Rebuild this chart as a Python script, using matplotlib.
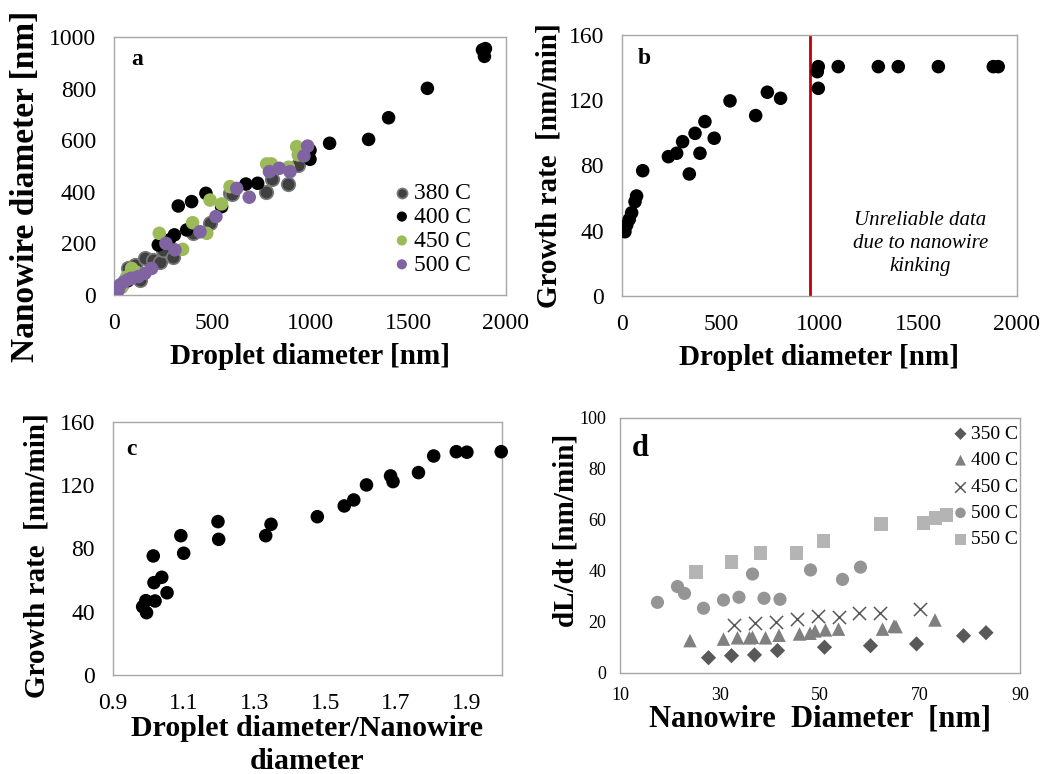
import matplotlib
matplotlib.use('Agg')
import matplotlib.pyplot as plt

plt.rcParams['font.family'] = ['Liberation Serif', 'DejaVu Serif']

# panel a: nanowire vs droplet diameter
a380_x = [60, 73, 107, 133, 158, 201, 235, 252, 301, 405, 490, 592, 604, 776, 806, 889, 940]
a380_y = [60, 103, 116, 58, 142, 136, 129, 174, 149, 239, 278, 394, 391, 399, 448, 430, 504]
a400_x = [20, 45, 70, 95, 226, 282, 308, 328, 371, 396, 469, 549, 673, 733, 1000, 1000, 1100,
          1299, 1401, 1599, 1880, 1895, 1890]
a400_y = [25, 40, 55, 80, 194, 213, 233, 345, 252, 362, 394, 342, 430, 433, 561, 526, 588,
          603, 687, 801, 950, 955, 925]
a450_x = [40, 65, 90, 110, 231, 350, 401, 473, 490, 549, 592, 779, 803, 890, 932, 940]
a450_y = [30, 70, 103, 90, 239, 177, 280, 239, 368, 353, 420, 508, 508, 495, 575, 543]
a500_x = [15, 22, 31, 50, 73, 90, 124, 158, 192, 265, 311, 439, 520, 626, 690, 793, 843, 898,
          969, 988]
a500_y = [20, 19, 39, 50, 60, 65, 71, 84, 103, 200, 175, 245, 304, 413, 379, 478, 491, 478,
          539, 577]

# panel b: growth rate vs droplet diameter
b_x = [15, 24, 37, 49, 66, 74, 105, 235, 277, 307, 341, 370, 395, 420, 467, 547, 677, 736, 803,
       989, 994, 994, 1095, 1298, 1399, 1602, 1880, 1905]
b_y = [39.4, 43.5, 47, 51, 57.8, 61.3, 76.8, 85.4, 87.5, 94.6, 74.8, 99.7, 87.5, 106.9, 96.7,
       119.6, 110.6, 124.9, 121.2, 137.5, 140.6, 127.3, 140.6, 140.6, 140.6, 140.6, 140.6, 140.6]
kink_x = 950

# panel c: growth rate vs diameter ratio
c_x = [0.995, 0.984, 0.993, 1.019, 1.053, 1.016, 1.038, 1.014, 1.100, 1.092, 1.199, 1.197,
       1.332, 1.347, 1.478, 1.554, 1.581, 1.617, 1.685, 1.692, 1.764, 1.807, 1.871, 1.901, 1.998]
c_y = [39.4, 43.2, 47.0, 46.8, 52.0, 58.4, 61.8, 75.3, 77.0, 88.1, 85.8, 97.0, 88.1, 95.3,
       100.1, 106.9, 110.7, 120.2, 125.9, 122.3, 128.0, 138.5, 141.2, 140.9, 141.2]
c_xticks = [0.9, 1.1, 1.3, 1.5, 1.7, 1.9]

# panel d: dL/dt vs nanowire diameter
d350_x = [27.7, 32.3, 36.9, 41.5, 50.9, 60.1, 69.3, 78.7, 83.2]
d350_y = [6.0, 6.8, 7.1, 8.8, 10.1, 10.7, 11.4, 14.6, 15.8]
d400_x = [24.0, 30.7, 33.5, 35.9, 36.5, 39.1, 41.8, 45.9, 48.0, 49.0, 51.1, 53.7, 62.5, 64.8,
          65.2, 73.0]
d400_y = [12.7, 13.3, 13.8, 13.8, 14.0, 13.8, 14.8, 15.3, 15.6, 16.5, 16.9, 17.2, 17.2, 18.4,
          18.2, 20.8]
d450_x = [32.9, 37.1, 41.3, 45.3, 49.5, 53.7, 57.8, 62.0, 70.0]
d450_y = [18.8, 19.5, 19.9, 21.2, 22.4, 22.0, 23.6, 23.6, 25.1]
d500_x = [17.5, 21.5, 22.9, 26.7, 30.7, 33.8, 36.5, 38.8, 42.0, 48.1, 54.5, 58.1]
d500_y = [27.7, 33.9, 31.2, 25.4, 28.6, 29.7, 38.8, 29.3, 28.9, 40.4, 36.7, 41.5]
d550_x = [25.2, 32.3, 38.1, 45.3, 50.7, 62.2, 70.7, 73.1, 75.3]
d550_y = [39.7, 43.4, 46.9, 46.9, 51.8, 58.3, 58.7, 60.7, 62.0]

fig = plt.figure(figsize=(10.42, 7.74), dpi=100)
ax_a = fig.add_axes([0.1094, 0.6189, 0.3762, 0.3333])
ax_b = fig.add_axes([0.5969, 0.6176, 0.3791, 0.3372])
ax_c = fig.add_axes([0.1084, 0.1279, 0.3733, 0.3269])
ax_d = fig.add_axes([0.5950, 0.1305, 0.3839, 0.3295])

for ax in (ax_a, ax_b, ax_c, ax_d):
    for sp in ax.spines.values():
        sp.set_color('#a6a6a6')
        sp.set_linewidth(1.0)
    ax.tick_params(length=0, labelsize=17, pad=13)

label_font = dict(fontsize=21, fontweight='bold')

# a
ms = 95
ax_a.scatter(a380_x, a380_y, s=ms, color='#404040', edgecolor='#7a7a7a', linewidth=1.2, label='380 C', zorder=3)
ax_a.scatter(a400_x, a400_y, s=ms, color='black', edgecolor='none', label='400 C', zorder=3)
ax_a.scatter(a450_x, a450_y, s=ms, color='#9BBB59', edgecolor='none', label='450 C', zorder=3)
ax_a.scatter(a500_x, a500_y, s=ms, color='#8064A2', edgecolor='none', label='500 C', zorder=3)
ax_a.set_xlim(0, 2000)
ax_a.set_ylim(0, 1000)
ax_a.set_xticks([0, 500, 1000, 1500, 2000])
ax_a.set_yticks([0, 200, 400, 600, 800, 1000])
ax_a.set_xlabel('Droplet diameter [nm]', **label_font)
ax_a.set_ylabel('Nanowire diameter [nm]', fontsize=24, fontweight='bold')
ax_a.xaxis.set_label_coords(0.5, -0.185)
ax_a.yaxis.set_label_coords(-0.185, 0.42)
ax_a.text(0.045, 0.89, 'a', transform=ax_a.transAxes, fontsize=17, fontweight='bold')
ax_a.legend(loc='center right', bbox_to_anchor=(0.94, 0.256), frameon=False, fontsize=17,
            handlelength=0.8, handletextpad=0.1, labelspacing=0.1, borderpad=0, markerscale=0.75)

# b
ax_b.scatter(b_x, b_y, s=ms, color='black', edgecolor='none', zorder=3)
ax_b.axvline(kink_x, color='#C00000', linewidth=2.0, zorder=2)
ax_b.set_xlim(0, 2000)
ax_b.set_ylim(0, 160)
ax_b.set_xticks([0, 500, 1000, 1500, 2000])
ax_b.set_yticks([0, 40, 80, 120, 160])
ax_b.set_xlabel('Droplet diameter [nm]', **label_font)
ax_b.set_ylabel('Growth rate  [nm/min]', **label_font)
ax_b.xaxis.set_label_coords(0.5, -0.185)
ax_b.yaxis.set_label_coords(-0.15, 0.5)
ax_b.text(0.04, 0.89, 'b', transform=ax_b.transAxes, fontsize=17, fontweight='bold')
ax_b.text(0.755, 0.2, 'Unreliable data\ndue to nanowire\nkinking', transform=ax_b.transAxes,
          fontsize=15, fontstyle='italic', ha='center', va='center', linespacing=1.3)

# c
ax_c.scatter(c_x, c_y, s=ms, color='black', edgecolor='none', zorder=3, clip_on=False)
ax_c.set_xlim(0.9, 2.0)
ax_c.set_ylim(0, 160)
ax_c.set_xticks(c_xticks)
ax_c.set_xticklabels([f'{t:.1f}' for t in c_xticks])
ax_c.set_yticks([0, 40, 80, 120, 160])
ax_c.set_xlabel('Droplet diameter/Nanowire\ndiameter', linespacing=1.25, fontsize=21.5,
                fontweight='bold')
ax_c.set_ylabel('Growth rate  [nm/min]', **label_font)
ax_c.xaxis.set_label_coords(0.5, -0.16)
ax_c.yaxis.set_label_coords(-0.16, 0.47)
ax_c.text(0.035, 0.87, 'c', transform=ax_c.transAxes, fontsize=17, fontweight='bold')

# d
ax_d.scatter(d350_x, d350_y, s=60, marker='D', color='#595959', edgecolor='none', label='350 C', zorder=3)
ax_d.scatter(d400_x, d400_y, s=95, marker='^', color='#808080', edgecolor='none', label='400 C', zorder=3)
ax_d.scatter(d450_x, d450_y, s=90, marker='x', color='#595959', linewidth=1.1, label='450 C', zorder=3)
ax_d.scatter(d500_x, d500_y, s=90, marker='o', color='#959595', edgecolor='none', label='500 C', zorder=3)
ax_d.scatter(d550_x, d550_y, s=100, marker='s', color='#b4b4b4', edgecolor='none', label='550 C', zorder=3)
ax_d.set_xlim(10, 90)
ax_d.set_ylim(0, 100)
ax_d.set_xticks([10, 30, 50, 70, 90])
ax_d.set_yticks([0, 20, 40, 60, 80, 100])
ax_d.tick_params(labelsize=13, pad=10)
ax_d.set_xlabel('Nanowire  Diameter  [nm]', fontsize=22, fontweight='bold')
ax_d.set_ylabel('dL/dt [nm/min]', fontsize=21, fontweight='bold')
ax_d.xaxis.set_label_coords(0.5, -0.122)
ax_d.yaxis.set_label_coords(-0.1, 0.56)
ax_d.text(0.03, 0.85, 'd', transform=ax_d.transAxes, fontsize=22, fontweight='bold')
ax_d.legend(loc='center right', bbox_to_anchor=(1.02, 0.73), frameon=False, fontsize=14,
            handlelength=0.8, handletextpad=0.15, labelspacing=0.45, borderpad=0, markerscale=0.8)

fig.savefig('out.png', dpi=100)
